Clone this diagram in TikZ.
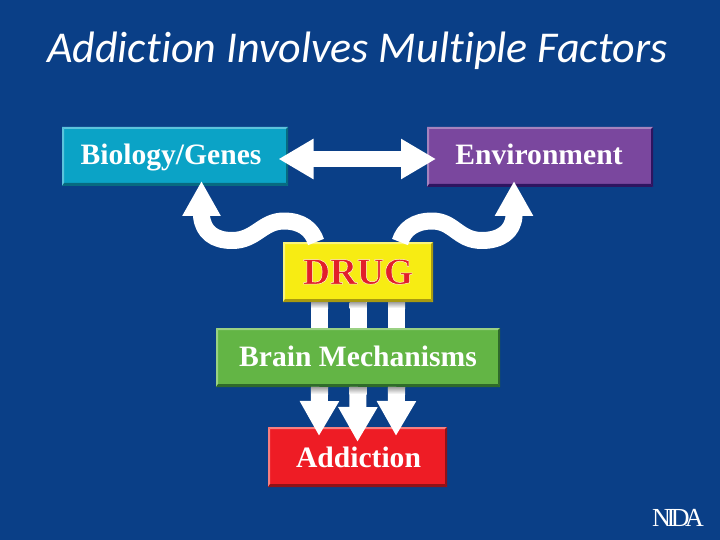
\documentclass[tikz,border=0pt]{standalone}
\usepackage{fontspec}
\usetikzlibrary{arrows.meta,calc}
\setmainfont{Liberation Serif}
\newfontfamily\titlefont{Carlito}[Ligatures=NoCommon]
\newfontface\boxfont{Liberation Serif Bold}
\newfontface\nidafont{Liberation Serif}[LetterSpace=-17]
\definecolor{bgblue}{HTML}{0A3F87}
\definecolor{biofill}{HTML}{0BA3C6}
\definecolor{biolight}{HTML}{5CC3DC}
\definecolor{biodark}{HTML}{086A80}
\definecolor{envfill}{HTML}{7A479E}
\definecolor{envlight}{HTML}{A583BE}
\definecolor{envdark}{HTML}{2E1460}
\definecolor{drugfill}{HTML}{F7EC13}
\definecolor{druglight}{HTML}{FBF47A}
\definecolor{drugdark}{HTML}{A89A10}
\definecolor{brainfill}{HTML}{63B545}
\definecolor{brainlight}{HTML}{9AD183}
\definecolor{braindark}{HTML}{2F6A2A}
\definecolor{addfill}{HTML}{EE1C25}
\definecolor{addlight}{HTML}{F77F7F}
\definecolor{adddark}{HTML}{8E1218}
\definecolor{drugred}{HTML}{E21F2B}
% bevelled box: name, x1, y1, x2, y2, colour stem, text height, text
\newcommand{\bevelbox}[8]{%
  \node[basebox, fill=#6fill, minimum width={(#4-#2)*1pt}, minimum height={(#5-#3)*1pt},
        text height=#7pt] (#1) at ({(#2+#4)/2},{(#3+#5)/2}) {#8};
  \fill[#6light] (#1.north west) -- (#1.north east) -- ++(-2,2) -- ($(#1.north west)+(2,2)$) -- cycle;
  \fill[#6light] (#1.north west) -- (#1.south west) -- ++(2,-2) -- ($(#1.north west)+(2,2)$) -- cycle;
  \fill[#6dark] (#1.south east) -- (#1.south west) -- ++(2,-3) -- ($(#1.south east)+(-2,-3)$) -- cycle;
  \fill[#6dark] (#1.south east) -- (#1.north east) -- ++(-2,2) -- ($(#1.south east)+(-2,-3)$) -- cycle;
}
\tikzset{
  basebox/.style={inner sep=0pt, outer sep=0pt, text depth=0pt, text=white, font=\boxfont\fontsize{29.6}{32}\selectfont, anchor=center},
  wave/.style={draw=white, line width=17pt, line join=round, -{Triangle[length=35pt,width=36pt]}},
  twoway/.style={draw=white, line width=16pt, {Triangle[length=35pt,width=38pt]}-{Triangle[length=35pt,width=38pt]}},
  feed/.style={draw=white, line width=17pt},
  down/.style={draw=white, line width=17pt, -{Triangle[length=35pt,width=37pt]}},
  fade/.style={top color=gray!75, bottom color=white},
}
\begin{document}
\begin{tikzpicture}[x=1pt,y=-1pt]
\useasboundingbox (0,0) rectangle (720,540);
\fill[bgblue] (0,0) rectangle (720,540);
\node[anchor=base west, inner sep=0pt, text=white, font=\titlefont\itshape\fontsize{44}{47}\selectfont] (title) at (47,63) {Addiction Involves Multiple Factors};

\bevelbox{bio}{62}{127}{288}{186}{bio}{17}{\hspace*{-8pt}Biology/Genes}
\bevelbox{env}{427}{127}{653}{187}{env}{16}{\hspace*{-2pt}Environment}
\bevelbox{brain}{216}{328}{500}{387}{brain}{17}{Brain Mechanisms}
\bevelbox{add}{268}{427}{447}{487}{add}{20}{\hspace*{2pt}Addiction}
\bevelbox{drug}{283}{242}{433}{302}{drug}{24}{\fontsize{37.4}{40}\selectfont\textcolor{drugred}{\special{pdf:code 1 1 .8 RG .5 w 2 Tr}DRUG\special{pdf:code 0 Tr}}}

% double arrow between Biology/Genes and Environment
\coordinate (twoL) at ($(bio.east)+(-9.5,2.5)$);
\coordinate (twoR) at ($(env.west)+(9,2)$);
\draw[twoway] (twoL) -- (twoR);

% wavy arrows from DRUG
\coordinate (waveLs) at ($(drug.north west)+(33,0)$);
\coordinate (waveLb) at ($(bio.south west)+(139.5,30)$);
\coordinate (waveLt) at ($(bio.south west)+(139.5,-5)$);
\draw[wave] (waveLs) .. controls ($(waveLs)+(-4,-13)$) and (301,221) .. (284,221)
  .. controls (262,221) and (256,240.5) .. (232,240.5)
  .. controls (214,240.5) and (203,232) .. (waveLb) -- (waveLt);
\coordinate (waveRs) at ($(drug.north east)+(-33,0)$);
\coordinate (waveRb) at ($(env.south west)+(87,29)$);
\coordinate (waveRt) at ($(env.south west)+(87,-6)$);
\draw[wave] (waveRs) .. controls ($(waveRs)+(4,-13)$) and (415,221) .. (432,221)
  .. controls (454,221) and (458,240.5) .. (482,240.5)
  .. controls (500,240.5) and (513,232) .. (waveRb) -- (waveRt);

% bars DRUG to Brain Mechanisms, arrows Brain Mechanisms to Addiction
\foreach \dx/\tipy in {-38.5/9,0/15,38.5/9}{
  \draw[feed] ($(drug.south)+(\dx,0)$) -- ($(brain.north)+(\dx,0)$);
  \shade[fade] ($(drug.south)+(\dx-8.5,0)$) rectangle ($(drug.south)+(\dx+8.5,6)$);
  \draw[down] ($(brain.south)+(\dx,0)$) -- ($(add.north)+(\dx,\tipy)$);
  \shade[fade] ($(brain.south)+(\dx-8.5,0)$) rectangle ($(brain.south)+(\dx+8.5,7)$);
}

\node[anchor=base west, inner sep=0pt, text=white, font=\nidafont\fontsize{26}{28}\selectfont] (nida) at (652,526) {NIDA};
\end{tikzpicture}
\end{document}
